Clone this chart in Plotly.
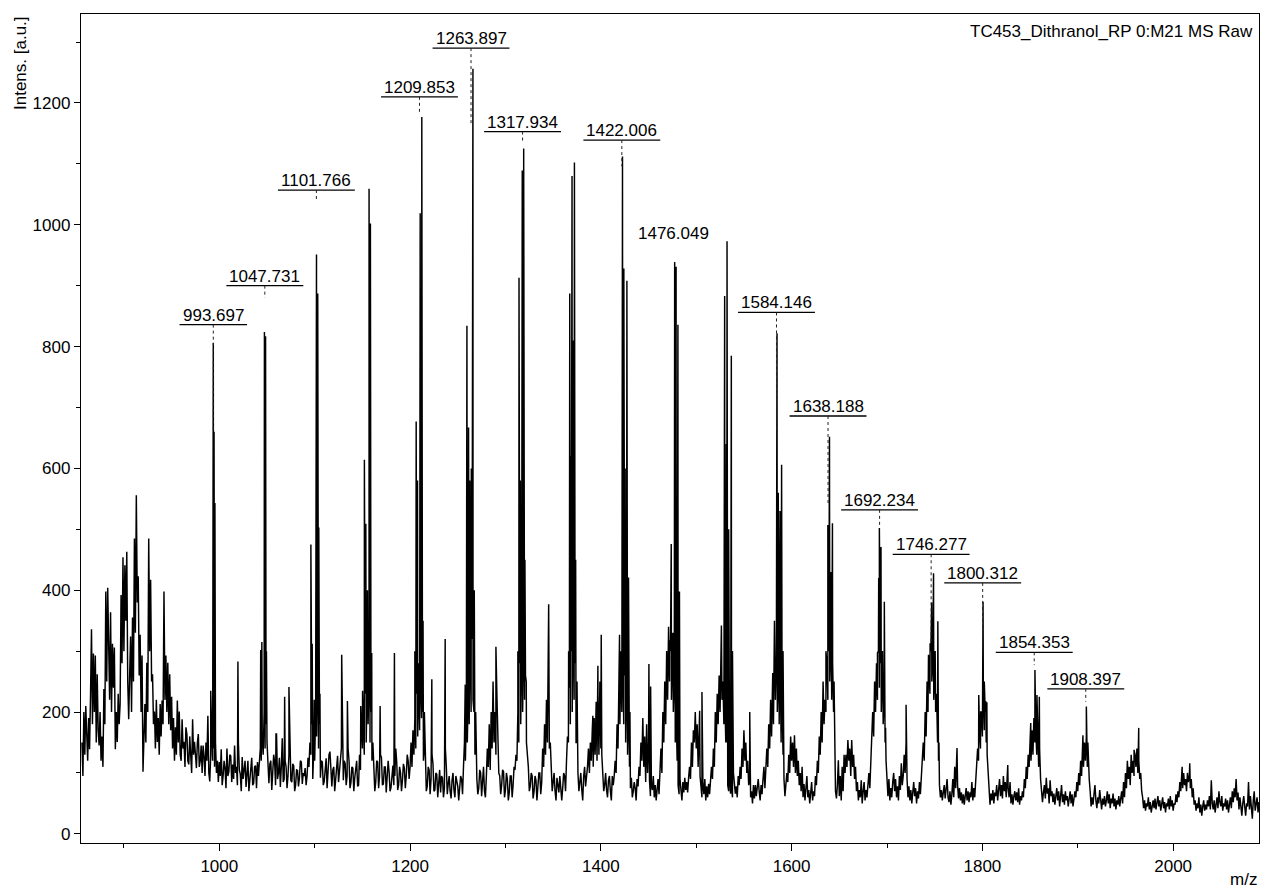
import plotly.graph_objects as go

# ---------------- data ----------------
NOISE_STEP = 1  # m/z spacing of the baseline samples

# baseline / noise samples, 50 per block, one block every 50 m/z
noise_856 = [150, 95, 200, 130, 210, 160, 120, 190, 139, 230,
             336, 180, 296, 200, 293, 150, 262, 170, 145, 200,
             120, 160, 110, 238, 180, 398, 250, 404, 300, 220,
             364, 200, 312, 240, 306, 139, 200, 151, 230, 180,
             213, 392, 280, 454, 300, 441, 350, 463, 250, 188]
noise_906 = [260, 324, 200, 355, 250, 485, 330, 556, 380, 423,
             260, 327, 200, 293, 102, 180, 213, 150, 281, 200,
             485, 300, 417, 250, 262, 180, 201, 140, 220, 151,
             190, 130, 213, 160, 219, 180, 398, 220, 293, 200,
             281, 180, 262, 170, 225, 140, 190, 120, 175, 130]
noise_956 = [219, 150, 201, 130, 120, 188, 140, 151, 110, 175,
             164, 120, 114, 160, 133, 100, 188, 130, 151, 120,
             108, 150, 164, 110, 120, 145, 100, 145, 127, 95,
             150, 120, 194, 100, 86, 130, 170, 120, 140, 110,
             150, 100, 120, 85, 118, 95, 139, 80, 95, 120]
noise_1006 = [108, 75, 140, 95, 102, 130, 128, 85, 114, 90,
              145, 100, 110, 80, 150, 105, 98, 70, 126, 90,
              108, 120, 77, 100, 120, 70, 90, 115, 125, 80,
              83, 110, 112, 75, 118, 95, 130, 140, 120, 160,
              130, 200, 140, 180, 151, 100, 83, 115, 120, 72]
noise_1056 = [95, 130, 118, 80, 164, 90, 100, 125, 77, 110,
              157, 85, 90, 120, 110, 75, 95, 130, 120, 88,
              85, 115, 112, 70, 80, 105, 104, 78, 92, 120,
              118, 82, 100, 95, 108, 80, 95, 125, 110, 150,
              130, 180, 90, 140, 120, 200, 160, 250, 140, 180]
noise_1106 = [92, 120, 118, 80, 86, 110, 124, 75, 100, 130,
              135, 90, 78, 105, 110, 70, 95, 120, 128, 85,
              102, 130, 140, 150, 88, 120, 115, 80, 95, 140,
              120, 75, 84, 110, 108, 70, 92, 115, 120, 78,
              80, 130, 105, 160, 140, 200, 130, 230, 150, 250]
noise_1156 = [180, 260, 150, 200, 120, 150, 100, 70, 85, 120,
              118, 75, 95, 130, 125, 80, 82, 110, 110, 68,
              90, 120, 102, 70, 76, 105, 112, 80, 95, 140,
              118, 72, 80, 110, 100, 70, 88, 115, 108, 75,
              95, 130, 120, 90, 110, 150, 110, 170, 130, 190]
noise_1206 = [140, 230, 160, 280, 170, 250, 190, 200, 120, 140,
              100, 70, 78, 110, 105, 65, 90, 130, 115, 70,
              72, 100, 98, 60, 80, 105, 68, 95, 92, 60,
              75, 140, 110, 65, 82, 95, 70, 58, 88, 100,
              72, 60, 95, 85, 78, 55, 70, 95, 90, 65]
noise_1256 = [110, 150, 120, 200, 150, 240, 180, 300, 200, 320,
              220, 200, 130, 150, 90, 65, 75, 105, 100, 62,
              82, 110, 70, 60, 95, 140, 110, 180, 105, 200,
              140, 250, 150, 200, 130, 230, 140, 100, 95, 65,
              80, 105, 102, 60, 72, 100, 90, 55, 68, 95]
noise_1306 = [95, 60, 80, 110, 105, 130, 120, 200, 150, 280,
              180, 300, 200, 320, 220, 260, 150, 130, 110, 70,
              78, 100, 95, 58, 70, 95, 88, 55, 72, 100,
              100, 65, 85, 140, 110, 180, 130, 220, 150, 260,
              140, 150, 110, 70, 85, 100, 70, 55, 92, 80]
noise_1356 = [68, 95, 80, 55, 75, 100, 95, 70, 120, 160,
              150, 240, 180, 300, 200, 350, 220, 280, 150, 150,
              100, 70, 85, 100, 72, 55, 95, 110, 78, 90,
              110, 140, 100, 150, 120, 170, 110, 190, 130, 200,
              120, 230, 130, 250, 140, 130, 95, 70, 80, 100]
noise_1406 = [72, 60, 88, 95, 70, 55, 95, 80, 95, 120,
              100, 180, 140, 250, 180, 300, 200, 280, 180, 260,
              150, 240, 130, 200, 110, 75, 92, 60, 70, 85,
              75, 55, 90, 78, 110, 95, 150, 120, 190, 110,
              160, 85, 180, 100, 150, 88, 62, 80, 72, 95]
noise_1456 = [60, 80, 55, 72, 90, 65, 110, 140, 100, 200,
              150, 250, 180, 300, 220, 340, 250, 300, 220, 280,
              200, 250, 150, 200, 120, 80, 65, 90, 72, 55,
              85, 68, 92, 72, 85, 68, 92, 110, 90, 150,
              110, 170, 150, 200, 140, 180, 110, 160, 95, 70]
noise_1506 = [60, 82, 65, 90, 55, 78, 60, 82, 65, 90,
              110, 90, 140, 110, 200, 150, 230, 180, 260, 200,
              300, 220, 250, 180, 220, 150, 150, 80, 70, 92,
              66, 78, 60, 100, 85, 66, 78, 60, 95, 80,
              110, 90, 140, 110, 170, 120, 150, 100, 120, 80]
noise_1556 = [90, 60, 70, 50, 80, 58, 80, 62, 75, 90,
              70, 55, 80, 65, 90, 110, 75, 120, 140, 110,
              180, 140, 220, 160, 260, 180, 300, 220, 280, 200,
              250, 180, 280, 150, 220, 130, 90, 62, 80, 100,
              85, 130, 100, 160, 120, 150, 110, 160, 100, 140]
noise_1606 = [95, 120, 80, 100, 70, 110, 60, 82, 55, 70,
              95, 60, 72, 50, 68, 85, 55, 70, 62, 95,
              80, 120, 100, 160, 130, 200, 150, 250, 180, 220,
              200, 280, 220, 300, 250, 320, 220, 280, 200, 150,
              70, 58, 80, 121, 62, 95, 55, 110, 70, 130]
noise_1656 = [100, 130, 110, 154, 120, 140, 95, 154, 110, 130,
              90, 110, 70, 85, 55, 72, 60, 88, 50, 70,
              85, 55, 72, 60, 88, 100, 75, 120, 150, 200,
              160, 250, 200, 280, 220, 300, 240, 280, 200, 260,
              180, 220, 150, 120, 80, 62, 90, 55, 75, 60]
noise_1706 = [85, 100, 70, 90, 60, 78, 55, 95, 72, 116,
              80, 95, 130, 100, 150, 90, 60, 78, 55, 72,
              50, 68, 85, 62, 75, 50, 70, 58, 85, 65,
              90, 110, 150, 120, 200, 160, 250, 200, 280, 230,
              300, 250, 280, 220, 260, 200, 230, 150, 120, 80]
noise_1756 = [60, 72, 55, 68, 80, 58, 75, 90, 60, 52,
              70, 48, 65, 90, 60, 110, 75, 141, 80, 58,
              75, 55, 68, 50, 65, 48, 62, 75, 55, 70,
              52, 68, 60, 85, 55, 75, 60, 90, 110, 140,
              120, 170, 140, 200, 160, 230, 170, 200, 150, 130]
noise_1806 = [100, 60, 48, 66, 55, 72, 50, 68, 62, 80,
              55, 72, 90, 62, 80, 58, 95, 70, 85, 60,
              100, 75, 60, 85, 50, 65, 48, 62, 70, 55,
              68, 52, 75, 48, 62, 55, 70, 60, 90, 75,
              110, 90, 130, 110, 150, 120, 170, 130, 190, 150]
noise_1856 = [170, 130, 160, 110, 140, 90, 70, 52, 68, 80,
              58, 92, 66, 75, 50, 88, 62, 70, 52, 66,
              48, 60, 75, 55, 70, 45, 58, 80, 52, 65,
              48, 70, 55, 62, 45, 58, 70, 50, 65, 45,
              58, 70, 60, 85, 70, 100, 80, 120, 95, 130]
noise_1906 = [110, 150, 120, 160, 110, 130, 90, 70, 45, 60,
              48, 65, 80, 55, 42, 60, 50, 72, 55, 40,
              58, 48, 62, 45, 55, 70, 50, 65, 42, 58,
              50, 66, 45, 58, 40, 55, 48, 62, 45, 55,
              70, 50, 85, 60, 100, 75, 120, 90, 110, 80]
noise_1956 = [130, 100, 120, 95, 130, 110, 140, 100, 120, 90,
              100, 70, 60, 42, 55, 38, 50, 45, 60, 40,
              52, 35, 48, 55, 42, 58, 40, 50, 62, 45,
              55, 38, 48, 60, 42, 52, 35, 50, 45, 58,
              40, 62, 45, 55, 38, 50, 48, 65, 52, 70]
noise_2006 = [60, 85, 70, 95, 75, 100, 80, 90, 70, 100,
              85, 95, 75, 90, 60, 75, 48, 55, 38, 50,
              42, 60, 35, 48, 30, 45, 55, 38, 48, 40,
              55, 45, 62, 40, 88, 50, 40, 55, 35, 48,
              60, 42, 70, 52, 45, 62, 38, 50, 45, 58]
noise_2056 = [40, 55, 35, 48, 60, 42, 70, 52, 75, 60,
              90, 55, 68, 40, 60, 45, 30, 50, 62, 45,
              30, 50, 45, 85, 40, 62, 48, 25, 55, 70,
              38, 48, 60, 35, 52, 45]

noise_blocks = [
    (856, noise_856), (906, noise_906), (956, noise_956), (1006, noise_1006),
    (1056, noise_1056), (1106, noise_1106), (1156, noise_1156), (1206, noise_1206),
    (1256, noise_1256), (1306, noise_1306), (1356, noise_1356), (1406, noise_1406),
    (1456, noise_1456), (1506, noise_1506), (1556, noise_1556), (1606, noise_1606),
    (1656, noise_1656), (1706, noise_1706), (1756, noise_1756), (1806, noise_1806),
    (1856, noise_1856), (1906, noise_1906), (1956, noise_1956), (2006, noise_2006),
    (2056, noise_2056),
]

# isolated spikes (peak tops)
peak_mz = [991.0, 993.7, 994.5, 995.4, 1019.5,
           1043.4, 1044.6, 1047.3, 1048.5, 1049.4, 1059.4, 1068.5, 1073.0,
           1096.0, 1097.4, 1099.5, 1101.9, 1103.2, 1104.3, 1105.5,
           1128.3, 1134.3, 1148.3,
           1150.2, 1152.1, 1153.6, 1155.3, 1157.0, 1158.4, 1159.8, 1168.6, 1183.6,
           1205.0, 1206.4, 1207.8, 1210.6, 1212.3, 1213.6, 1215.0, 1222.8, 1236.8,
           1257.8, 1259.6, 1261.3, 1262.6, 1264.2, 1265.9, 1267.3, 1268.8, 1290.0,
           1313.0, 1314.2, 1315.6, 1317.6, 1319.1, 1320.4, 1321.8, 1345.3,
           1366.2, 1367.4, 1368.6, 1369.8, 1371.0, 1372.3, 1373.6, 1375.0,
           1391.6, 1395.1, 1396.9, 1400.4,
           1419.6, 1421.0, 1422.7, 1424.1, 1425.5, 1427.3, 1429.0, 1430.5, 1450.4, 1452.2,
           1472.1, 1473.8, 1475.5, 1477.4, 1478.9, 1480.8, 1482.4, 1503.6, 1506.0,
           1526.4, 1529.8, 1531.5, 1532.3, 1534.0, 1536.8, 1538.0, 1556.1,
           1580.2, 1582.0, 1584.7, 1586.0, 1587.9, 1589.5, 1591.0, 1603.0,
           1636.0, 1638.0, 1639.7, 1641.2, 1642.8, 1644.5,
           1688.5, 1690.0, 1691.3, 1692.0, 1693.7, 1695.3, 1697.2, 1698.5, 1714.7, 1720.0,
           1743.5, 1745.2, 1746.8, 1748.8, 1750.5, 1753.3, 1754.5, 1773.4,
           1796.2, 1798.2, 1800.7, 1802.0, 1803.5, 1804.7, 1826.6,
           1850.7, 1852.5, 1855.1, 1857.2, 1859.7,
           1905.4, 1907.5, 1909.0, 1910.6, 1959.0, 1963.9, 2009.4, 2017.4]
peak_int = [235, 806, 660, 543, 283,
            302, 315, 824, 817, 300, 164, 225, 241,
            475, 312, 220, 951, 887, 503, 230,
            294, 218, 210,
            235, 614, 509, 400, 1059, 1002, 297, 210, 297,
            300, 677, 580, 1019, 1177, 350, 200, 254, 320,
            245, 834, 667, 580, 600, 1256, 400, 200, 307,
            300, 913, 580, 1089, 1125, 450, 250, 377,
            300, 887, 620, 1080, 810, 1102, 450, 250,
            194, 217, 276, 327,
            327, 288, 1112, 928, 600, 908, 421, 200, 279, 242,
            318, 476, 330, 939, 931, 836, 398, 202, 233,
            342, 883, 640, 973, 500, 785, 300, 200,
            264, 350, 822, 560, 530, 606, 300, 162,
            300, 507, 652, 430, 510, 250,
            258, 297, 420, 502, 471, 300, 381, 174, 116, 212,
            294, 313, 380, 428, 300, 349, 150, 141,
            228, 200, 381, 250, 218, 216, 113,
            182, 160, 269, 228, 225,
            162, 140, 209, 150, 138, 174, 110, 116]

# peak labels
label_text = ["993.697", "1047.731", "1101.766", "1209.853", "1263.897", "1317.934",
              "1422.006", "1476.049", "1584.146", "1638.188", "1692.234", "1746.277",
              "1800.312", "1854.353", "1908.397"]
label_underlined = [True, True, True, True, True, True, True, False,
                    True, True, True, True, True, True, True]
# label placement (intensity of the underline) and lower end of the dotted marker
label_level = [836, 900, 1057, 1210, 1290, 1153, 1139, 986, 856, 686, 532, 459, 412, 298, 238]
label_stem_end = [662, 880, 1038, 1181, 1164, 1138, 1096, None, 664, 539, 505, 313, 305, 277, 217]

x_range = [855, 2090]
y_range = [-15, 1346]
title_text = "TC453_Dithranol_RP 0:M21 MS Raw"

# ---------------- build the spectrum line ----------------
pts = []
for start, vals in noise_blocks:
    for i, v in enumerate(vals):
        pts.append((start + NOISE_STEP * i, v))
pts += list(zip(peak_mz, peak_int))
pts.sort(key=lambda p: p[0])
mz = [p[0] for p in pts]
inten = [p[1] for p in pts]

FONT = "Arial, Liberation Sans, sans-serif"
FS = 17

fig = go.Figure()
fig.add_trace(go.Scatter(x=mz, y=inten, mode="lines",
                         line=dict(color="black", width=1.45),
                         hoverinfo="skip", showlegend=False))

annotations = []
shapes = []
for txt, und, lvl, stem in zip(label_text, label_underlined, label_level, label_stem_end):
    xm = float(txt)
    if und:
        half_w = (sum(0.278 if c == "." else 0.556 for c in txt) * FS) / 2 + 3
        annotations.append(dict(x=xm, y=lvl, xref="x", yref="y", text=txt,
                                showarrow=False, xanchor="center", yanchor="bottom",
                                yshift=-2, font=dict(family=FONT, size=FS, color="black")))
        shapes.append(dict(type="line", xref="x", yref="y", xsizemode="pixel",
                           xanchor=xm, x0=-half_w, x1=half_w, y0=lvl, y1=lvl,
                           line=dict(color="black", width=1.3)))
        if stem is not None:
            shapes.append(dict(type="line", xref="x", yref="y", x0=xm, x1=xm,
                               y0=lvl, y1=stem,
                               line=dict(color="#222222", width=1, dash="dot")))
    else:
        annotations.append(dict(x=xm, y=lvl, xref="x", yref="y", text=txt,
                                showarrow=False, xanchor="center", yanchor="middle",
                                font=dict(family=FONT, size=FS, color="black")))

annotations.append(dict(x=1, y=1, xref="paper", yref="paper", text=title_text,
                        showarrow=False, xanchor="right", yanchor="top",
                        xshift=-4, yshift=-6,
                        font=dict(family=FONT, size=FS, color="black")))
annotations.append(dict(x=1, y=0, xref="paper", yref="paper", text="m/z",
                        showarrow=False, xanchor="right", yanchor="bottom",
                        xshift=0, yshift=-48,
                        font=dict(family=FONT, size=FS, color="black")))
annotations.append(dict(x=0, y=1, xref="paper", yref="paper", text="Intens. [a.u.]",
                        showarrow=False, textangle=-90, xanchor="center", yanchor="top",
                        xshift=-61, yshift=0,
                        font=dict(family=FONT, size=FS, color="black")))

axis_common = dict(showline=True, mirror=True, linecolor="black", linewidth=1.3,
                   showgrid=False, zeroline=False, ticks="outside", tickcolor="black",
                   tickwidth=1.2, tickfont=dict(family=FONT, size=FS, color="black"))

fig.update_layout(
    width=1264, height=892,
    margin=dict(l=81, r=5, t=14, b=49),
    paper_bgcolor="white", plot_bgcolor="white",
    xaxis=dict(range=x_range, tick0=0, dtick=200, ticklen=7,
               minor=dict(ticks="outside", dtick=100, ticklen=4, tickcolor="black", tickwidth=1.2),
               **axis_common),
    yaxis=dict(range=y_range, tick0=0, dtick=200, ticklen=6,
               minor=dict(ticks="outside", dtick=100, ticklen=4, tickcolor="black", tickwidth=1.2),
               **axis_common),
    annotations=annotations,
    shapes=shapes,
    font=dict(family=FONT, size=FS, color="black"),
)

fig.write_html("out.html", config={"displayModeBar": False},
               post_script="document.body.style.margin='0';document.body.style.overflow='hidden';")
